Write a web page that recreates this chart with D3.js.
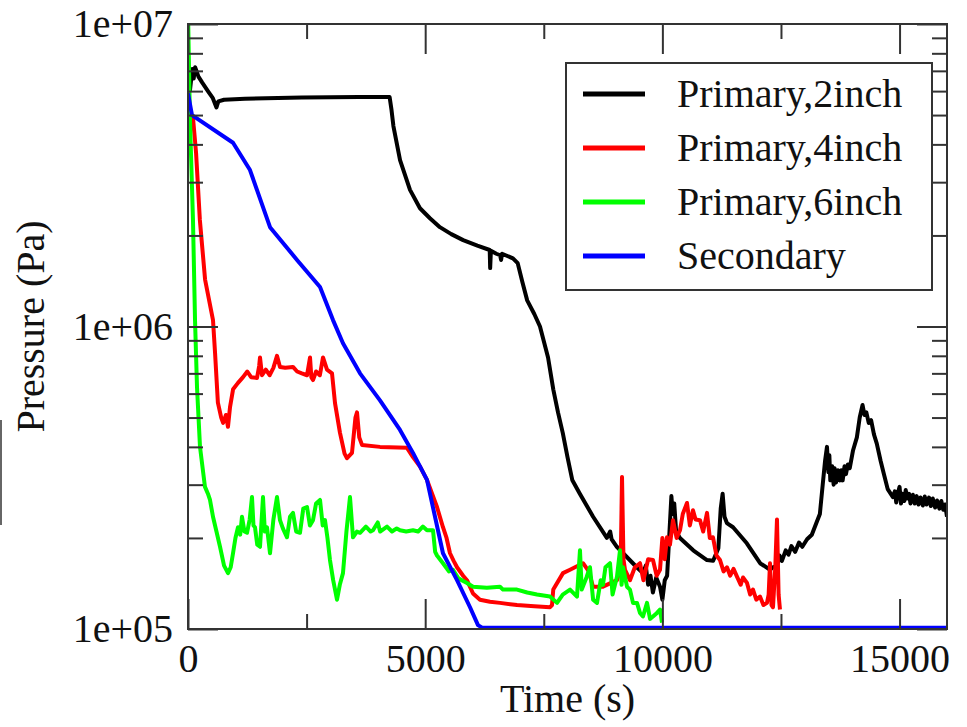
<!doctype html>
<html>
<head>
  <meta charset="utf-8">
  <title>Pressure vs time</title>
  <script src="https://d3js.org/d3.v7.min.js"></script>
  <style>
    body { margin: 0; background: #fff; }
    #chart svg { display: block; font-family: "Liberation Serif", "DejaVu Serif", serif; }
    .tick line { stroke: #333; stroke-width: 2; }
  </style>
</head>
<body>
<div id="chart"></div>
<script>
  // series names / colours / ticks
  var seriesNames = ["Primary,2inch", "Primary,4inch", "Primary,6inch", "Secondary"];
  var seriesColors = ["#000000", "#ff0000", "#00ff00", "#0000ff"];
  var xTicks = [0, 5000, 10000, 15000];
  var xMinorTicks = [2500, 7500, 12500];
  var yTicks = [1e5, 1e6, 1e7];
  var yTickLabels = ["1e+05", "1e+06", "1e+07"];
  var yMinorTicks = [2e5, 3e5, 4e5, 5e5, 6e5, 7e5, 8e5, 9e5, 2e6, 3e6, 4e6, 5e6, 6e6, 7e6, 8e6, 9e6];

  // [time (s), pressure (Pa)]
  var primary2 = [
    [40, 6.0e6], [90, 7.1e6], [120, 6.6e6], [150, 7.2e6], [220, 6.7e6], [300, 6.4e6], [420, 6.0e6],
    [520, 5.7e6], [600, 5.3e6], [640, 5.55e6], [760, 5.62e6], [1200, 5.66e6], [2400, 5.72e6],
    [3600, 5.74e6], [4250, 5.74e6], [4290, 5.2e6], [4330, 4.6e6], [4470, 3.55e6], [4680, 2.83e6],
    [4890, 2.46e6], [5100, 2.28e6], [5310, 2.13e6], [5550, 2.02e6], [5800, 1.93e6], [6100, 1.85e6],
    [6360, 1.79e6], [6370, 1.56e6], [6385, 1.78e6], [6500, 1.74e6], [6580, 1.72e6], [6600, 1.66e6],
    [6620, 1.74e6], [6850, 1.68e6], [6950, 1.62e6], [7050, 1.4e6], [7150, 1.22e6], [7300, 1.1e6],
    [7420, 1.0e6], [7590, 7.9e5], [7700, 6.2e5], [7800, 5.2e5], [7900, 4.45e5], [8000, 3.7e5],
    [8100, 3.11e5], [8260, 2.8e5], [8540, 2.35e5], [8830, 2.0e5], [8900, 2.1e5], [8930, 1.98e5],
    [9040, 1.87e5], [9250, 1.73e5], [9460, 1.6e5], [9590, 1.53e5], [9650, 1.62e5], [9700, 1.4e5],
    [9750, 1.5e5], [9800, 1.32e5], [9870, 1.48e5], [9950, 1.38e5], [10000, 1.25e5], [10050, 1.45e5],
    [10100, 1.5e5], [10150, 2.1e5], [10190, 2.75e5], [10220, 2.4e5], [10250, 2.6e5], [10290, 2.1e5],
    [10370, 2.0e5], [10650, 1.82e5], [10940, 1.69e5], [11070, 1.68e5], [11180, 1.85e5], [11230, 2.5e5],
    [11270, 2.8e5], [11310, 2.35e5], [11360, 2.24e5], [11490, 2.17e5], [11780, 1.92e5], [12060, 1.65e5],
    [12270, 1.57e5], [12330, 1.6e5], [12420, 1.62e5], [12470, 1.75e5], [12520, 1.68e5], [12600, 1.82e5],
    [12660, 1.76e5], [12720, 1.88e5], [12800, 1.8e5], [12880, 1.93e5], [12950, 1.87e5], [13050, 1.98e5],
    [13150, 2.05e5], [13250, 2.25e5], [13320, 2.4e5], [13380, 3.0e5], [13430, 3.6e5], [13470, 4.0e5],
    [13500, 3.3e5], [13520, 3.75e5], [13540, 3.1e5], [13580, 3.45e5], [13610, 3.0e5], [13630, 3.4e5],
    [13660, 3.05e5], [13700, 3.35e5], [13740, 3.1e5], [13770, 3.35e5], [13800, 3.1e5], [13840, 3.45e5],
    [13870, 3.25e5], [13910, 3.5e5], [13950, 3.4e5], [14020, 3.9e5], [14100, 4.3e5], [14160, 5.0e5],
    [14220, 5.5e5], [14260, 5.1e5], [14300, 5.2e5], [14350, 4.8e5], [14400, 4.9e5], [14460, 4.4e5],
    [14520, 4.1e5], [14600, 3.6e5], [14660, 3.3e5], [14750, 2.9e5], [14860, 2.73e5], [14900, 2.85e5],
    [14930, 2.62e5], [14960, 2.8e5], [15000, 2.95e5], [15030, 2.6e5], [15060, 2.8e5], [15100, 2.65e5],
    [15130, 2.88e5], [15160, 2.7e5], [15200, 2.8e5], [15230, 2.6e5], [15280, 2.78e5], [15320, 2.6e5],
    [15360, 2.75e5], [15400, 2.58e5], [15440, 2.72e5], [15490, 2.56e5], [15530, 2.74e5], [15570, 2.58e5],
    [15620, 2.72e5], [15660, 2.55e5], [15700, 2.7e5], [15750, 2.52e5], [15790, 2.66e5], [15840, 2.5e5],
    [15880, 2.65e5], [15920, 2.48e5], [15960, 2.58e5], [16000, 2.35e5]
  ];

  var primary4 = [
    [0, 5.1e6], [105, 4.9e6], [170, 3.75e6], [250, 2.25e6], [360, 1.43e6], [527, 1.05e6], [570, 8.2e5],
    [630, 5.6e5], [700, 5.0e5], [740, 4.8e5], [800, 5.1e5], [843, 4.66e5], [885, 5.4e5], [950, 6.2e5],
    [1050, 6.5e5], [1160, 6.8e5], [1250, 7.1e5], [1330, 6.8e5], [1455, 6.76e5], [1500, 7.4e5],
    [1518, 7.9e5], [1560, 6.9e5], [1640, 7.2e5], [1720, 6.9e5], [1800, 7.3e5], [1876, 8.0e5],
    [1939, 7.35e5], [2050, 7.3e5], [2213, 7.35e5], [2300, 7.1e5], [2400, 7.0e5], [2509, 6.9e5],
    [2572, 7.9e5], [2600, 6.8e5], [2635, 6.65e5], [2700, 7.1e5], [2780, 6.9e5], [2846, 7.9e5],
    [2930, 7.2e5], [3036, 7.0e5], [3099, 5.58e5], [3204, 4.45e5], [3300, 3.8e5], [3352, 3.67e5],
    [3457, 3.82e5], [3530, 5.0e5], [3563, 5.2e5], [3610, 4.3e5], [3668, 4.06e5], [4047, 4.0e5],
    [4617, 3.97e5], [4743, 3.7e5], [4891, 3.44e5], [5038, 3.11e5], [5249, 2.53e5], [5375, 2.17e5],
    [5450, 2.0e5], [5523, 1.78e5], [5600, 1.68e5], [5671, 1.6e5], [5800, 1.5e5], [5881, 1.45e5],
    [6008, 1.31e5], [6155, 1.25e5], [6366, 1.23e5], [6577, 1.22e5], [6935, 1.2e5], [7300, 1.19e5],
    [7631, 1.18e5], [7673, 1.2e5], [7700, 1.35e5], [7905, 1.53e5], [8053, 1.57e5], [8327, 1.65e5],
    [8450, 1.55e5], [8537, 1.38e5], [8748, 1.38e5], [9043, 1.45e5], [9120, 1.6e5], [9149, 3.18e5],
    [9180, 1.7e5], [9212, 1.57e5], [9317, 1.45e5], [9420, 1.6e5], [9528, 1.65e5], [9600, 1.45e5],
    [9700, 1.7e5], [9802, 1.69e5], [9880, 1.5e5], [9950, 1.57e5], [10000, 2.0e5], [10050, 1.7e5],
    [10097, 2.01e5], [10160, 1.9e5], [10224, 2.29e5], [10300, 2.0e5], [10372, 2.12e5], [10430, 2.4e5],
    [10519, 2.61e5], [10580, 2.2e5], [10645, 2.47e5], [10700, 2.3e5], [10793, 2.29e5], [10860, 2.1e5],
    [10941, 2.42e5], [11000, 2.0e5], [11067, 2.01e5], [11140, 1.75e5], [11215, 1.69e5], [11290, 1.55e5],
    [11362, 1.6e5], [11430, 1.5e5], [11500, 1.58e5], [11573, 1.49e5], [11650, 1.4e5], [11700, 1.48e5],
    [11784, 1.42e5], [11850, 1.3e5], [11910, 1.35e5], [11980, 1.25e5], [12058, 1.28e5], [12130, 1.2e5],
    [12205, 1.22e5], [12240, 1.3e5], [12269, 1.65e5], [12300, 1.2e5], [12332, 1.18e5], [12380, 1.6e5],
    [12416, 2.3e5], [12450, 1.3e5], [12479, 1.16e5]
  ];

  var primary6 = [
    [0, 1.1e7], [42, 4.8e6], [105, 2.25e6], [148, 1.05e6], [190, 6.3e5], [253, 4.0e5], [358, 2.95e5],
    [420, 2.8e5], [464, 2.67e5], [527, 2.35e5], [600, 2.1e5], [675, 1.87e5], [760, 1.62e5], [843, 1.53e5],
    [900, 1.6e5], [949, 1.78e5], [1000, 2.0e5], [1054, 2.17e5], [1100, 2.05e5], [1138, 2.35e5],
    [1190, 2.1e5], [1244, 2.08e5], [1300, 2.3e5], [1349, 2.73e5], [1380, 2.2e5], [1412, 2.17e5],
    [1460, 1.9e5], [1518, 1.87e5], [1581, 2.73e5], [1620, 2.1e5], [1665, 2.17e5], [1729, 1.78e5],
    [1800, 2.3e5], [1876, 2.73e5], [1939, 2.29e5], [2000, 2.15e5], [2087, 2.01e5], [2150, 2.35e5],
    [2213, 2.42e5], [2280, 2.1e5], [2361, 2.08e5], [2430, 2.5e5], [2509, 2.53e5], [2570, 2.2e5],
    [2635, 2.29e5], [2700, 2.6e5], [2783, 2.67e5], [2840, 2.2e5], [2888, 2.29e5], [2940, 2.0e5],
    [2993, 1.69e5], [3060, 1.45e5], [3141, 1.25e5], [3200, 1.4e5], [3267, 1.53e5], [3340, 2.1e5],
    [3415, 2.73e5], [3478, 2.01e5], [3560, 2.1e5], [3626, 2.08e5], [3750, 2.18e5], [3850, 2.1e5],
    [3900, 2.12e5], [4000, 2.25e5], [4050, 2.1e5], [4195, 2.18e5], [4300, 2.1e5], [4400, 2.15e5],
    [4469, 2.12e5], [4600, 2.1e5], [4743, 2.12e5], [4850, 2.1e5], [4950, 2.18e5], [5038, 2.12e5],
    [5165, 2.12e5], [5210, 1.8e5], [5249, 1.75e5], [5375, 1.65e5], [5500, 1.55e5], [5586, 1.57e5],
    [5700, 1.47e5], [5881, 1.42e5], [6008, 1.38e5], [6300, 1.37e5], [6577, 1.38e5], [6640, 1.35e5],
    [6935, 1.35e5], [7150, 1.32e5], [7357, 1.3e5], [7631, 1.28e5], [7779, 1.22e5], [7900, 1.3e5],
    [8053, 1.35e5], [8200, 1.28e5], [8263, 1.82e5], [8300, 1.35e5], [8400, 1.48e5], [8474, 1.6e5],
    [8540, 1.25e5], [8622, 1.22e5], [8700, 1.45e5], [8748, 1.4e5], [8800, 1.6e5], [8896, 1.65e5],
    [8950, 1.3e5], [9043, 1.49e5], [9107, 1.82e5], [9140, 1.4e5], [9170, 1.6e5], [9254, 1.38e5],
    [9317, 1.35e5], [9381, 1.22e5], [9465, 1.22e5], [9528, 1.13e5], [9591, 1.1e5], [9676, 1.22e5],
    [9740, 1.08e5], [9802, 1.1e5], [9886, 1.13e5], [9950, 1.16e5], [9992, 1.05e5]
  ];

  var secondary = [
    [0, 5.9e6], [84, 5.0e6], [949, 4.05e6], [1307, 3.29e6], [1729, 2.13e6], [2298, 1.66e6],
    [2783, 1.35e6], [3057, 1.05e6], [3267, 8.8e5], [3626, 7.0e5], [4047, 5.7e5], [4469, 4.55e5],
    [4743, 3.82e5], [5038, 3.11e5], [5375, 1.78e5], [5671, 1.45e5], [5945, 1.18e5], [6113, 1.03e5],
    [6200, 1.01e5], [16000, 1.01e5]
  ];

  var allSeries = [primary2, primary4, primary6, secondary];

  // layout (plot box edges in pixels)
  var width = 967;
  var height = 727;
  var plotLeft = 188, plotRight = 947, plotTop = 24, plotBottom = 629;
  var serif = "'Liberation Serif', 'DejaVu Serif', serif";

  var svg = d3.select("#chart")
    .append("svg")
    .attr("width", width)
    .attr("height", height);

  var x = d3.scaleLinear().domain([0, 16000]).range([plotLeft, plotRight]);
  var y = d3.scaleLog().domain([1e5, 1e7]).range([plotBottom, plotTop]);

  svg.append("clipPath")
    .attr("id", "plotclip")
    .append("rect")
    .attr("x", plotLeft)
    .attr("y", plotTop)
    .attr("width", plotRight - plotLeft)
    .attr("height", plotBottom - plotTop);

  // curves
  var line = d3.line()
    .x(function(d) { return x(d[0]); })
    .y(function(d) { return y(d[1]); });

  svg.append("g")
    .attr("clip-path", "url(#plotclip)")
    .selectAll("path")
    .data(allSeries)
    .enter()
    .append("path")
    .attr("d", line)
    .attr("fill", "none")
    .attr("stroke", function(d, i) { return seriesColors[i]; })
    .attr("stroke-width", 4)
    .attr("stroke-linejoin", "round");

  // axes, ticks pointing inward on all four sides
  function addAxis(axis, tx, ty) {
    var g = svg.append("g")
      .attr("transform", "translate(" + tx + "," + ty + ")")
      .call(axis)
      .attr("font-family", serif)
      .attr("font-size", 40);
    g.select(".domain").remove();
    g.selectAll(".tick text").attr("fill", "#111");
    return g;
  }

  addAxis(d3.axisBottom(x).tickValues(xTicks).tickSize(-30).tickSizeOuter(0).tickPadding(15)
    .tickFormat(d3.format("d")), 0, plotBottom);
  addAxis(d3.axisBottom(x).tickValues(xMinorTicks).tickSize(-15).tickFormat(""), 0, plotBottom);
  addAxis(d3.axisTop(x).tickValues(xTicks).tickSize(-30).tickFormat(""), 0, plotTop);
  addAxis(d3.axisTop(x).tickValues(xMinorTicks).tickSize(-15).tickFormat(""), 0, plotTop);

  addAxis(d3.axisLeft(y).tickValues(yTicks).tickSize(-30).tickPadding(15)
    .tickFormat(function(d, i) { return yTickLabels[i]; }), plotLeft, 0);
  addAxis(d3.axisLeft(y).tickValues(yMinorTicks).tickSize(-15).tickFormat(""), plotLeft, 0);
  addAxis(d3.axisRight(y).tickValues(yTicks).tickSize(-30).tickFormat(""), plotRight, 0);
  addAxis(d3.axisRight(y).tickValues(yMinorTicks).tickSize(-15).tickFormat(""), plotRight, 0);

  // frame
  svg.append("rect")
    .attr("x", plotLeft)
    .attr("y", plotTop)
    .attr("width", plotRight - plotLeft)
    .attr("height", plotBottom - plotTop)
    .attr("fill", "none")
    .attr("stroke", "#333")
    .attr("stroke-width", 2);

  // axis titles
  svg.append("text")
    .attr("x", (plotLeft + plotRight) / 2)
    .attr("y", 712)
    .attr("text-anchor", "middle")
    .attr("font-family", serif)
    .attr("font-size", 40)
    .attr("fill", "#111")
    .text("Time (s)");

  svg.append("text")
    .attr("transform", "translate(44," + (plotTop + plotBottom) / 2 + ")rotate(-90)")
    .attr("text-anchor", "middle")
    .attr("font-family", serif)
    .attr("font-size", 40)
    .attr("fill", "#111")
    .text("Pressure (Pa)");

  // legend
  var legend = svg.append("g");
  legend.append("rect")
    .attr("x", 566)
    .attr("y", 63)
    .attr("width", 366)
    .attr("height", 227)
    .attr("fill", "#fff")
    .attr("stroke", "#333")
    .attr("stroke-width", 2);

  var items = legend.selectAll("g.item")
    .data(seriesNames)
    .enter()
    .append("g")
    .attr("class", "item")
    .attr("transform", function(d, i) { return "translate(0," + (94 + i * 54) + ")"; });

  items.append("line")
    .attr("x1", 583)
    .attr("x2", 645)
    .attr("stroke", function(d, i) { return seriesColors[i]; })
    .attr("stroke-width", 5);

  items.append("text")
    .attr("x", 677)
    .attr("y", 13)
    .attr("font-family", serif)
    .attr("font-size", 40)
    .attr("fill", "#111")
    .text(function(d) { return d; });

  // edge of the neighbouring figure at the far left
  svg.append("line")
    .attr("x1", 1).attr("x2", 1)
    .attr("y1", 420).attr("y2", 525)
    .attr("stroke", "#666")
    .attr("stroke-width", 2);
</script>
</body>
</html>
